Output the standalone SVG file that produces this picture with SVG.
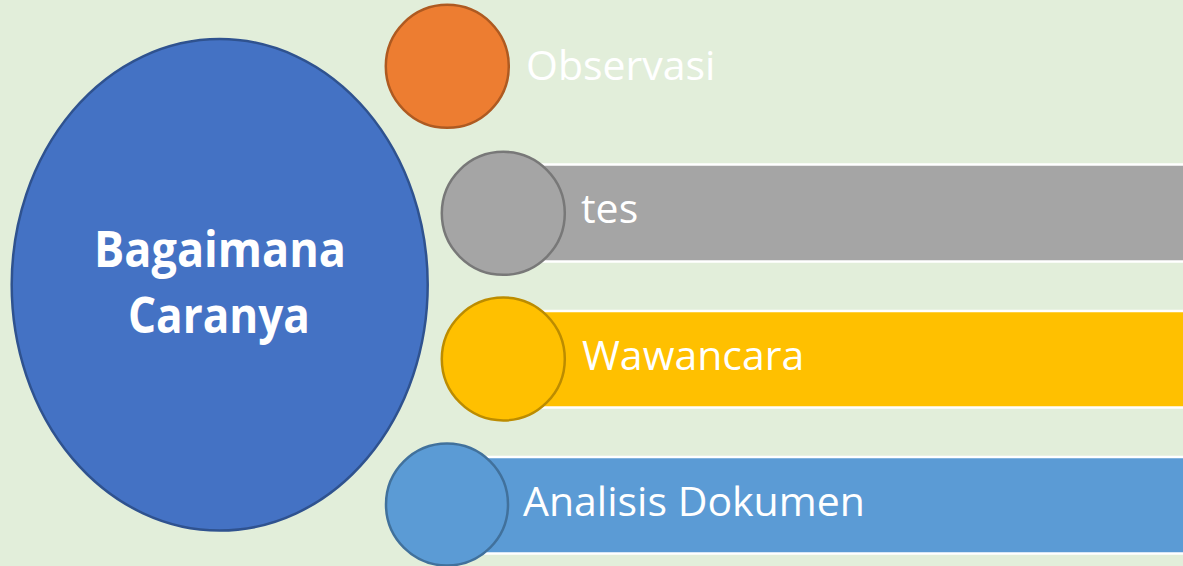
<svg xmlns="http://www.w3.org/2000/svg" width="1183" height="566" viewBox="0 0 1183 566">
  <style>
    .bar { stroke: #ffffff; stroke-width: 2.5; }
    .dot { stroke-width: 2.5; }
    .label { font-family: "Open Sans", "Noto Sans", sans-serif; font-size: 41px; fill: #ffffff; }
    .title { font-family: "Open Sans", "Noto Sans", sans-serif; font-size: 51px; font-weight: bold; fill: #ffffff; text-anchor: middle; }
  </style>
  <!-- page background -->
  <rect x="0" y="0" width="1183" height="566" fill="#e2eeda"/>

  <!-- central topic -->
  <g id="center">
    <ellipse cx="219.7" cy="284.8" rx="208" ry="245.8" fill="#4472c4" stroke="#2f528f" stroke-width="2.5"/>
    <text class="title" x="220" y="266.5" textLength="252" lengthAdjust="spacingAndGlyphs">Bagaimana</text>
    <text class="title" x="219" y="333.3" textLength="182" lengthAdjust="spacingAndGlyphs">Caranya</text>
  </g>

  <!-- method items -->
  <g id="observasi">
    <circle class="dot" cx="447.3" cy="66.3" r="61.5" fill="#ed7d31" stroke="#ae5a21"/>
    <text class="label" x="526" y="80">Observasi</text>
  </g>

  <g id="tes">
    <rect class="bar" x="503" y="164.5" width="700" height="97" fill="#a5a5a5"/>
    <circle class="dot" cx="503.3" cy="213.3" r="61.5" fill="#a5a5a5" stroke="#787878"/>
    <text class="label" x="581" y="223">tes</text>
  </g>

  <g id="wawancara">
    <rect class="bar" x="503" y="311" width="700" height="96.5" fill="#ffc000"/>
    <circle class="dot" cx="503.3" cy="359" r="61.5" fill="#ffc000" stroke="#bc8c00"/>
    <text class="label" x="582" y="370">Wawancara</text>
  </g>

  <g id="analisis-dokumen">
    <rect class="bar" x="447" y="457" width="756" height="96.5" fill="#5b9bd5"/>
    <circle class="dot" cx="447" cy="504.5" r="61" fill="#5b9bd5" stroke="#41719c"/>
    <text class="label" x="523" y="516">Analisis Dokumen</text>
  </g>

  <!-- no connectors in this layout -->
  <g id="connectors"/>
</svg>
